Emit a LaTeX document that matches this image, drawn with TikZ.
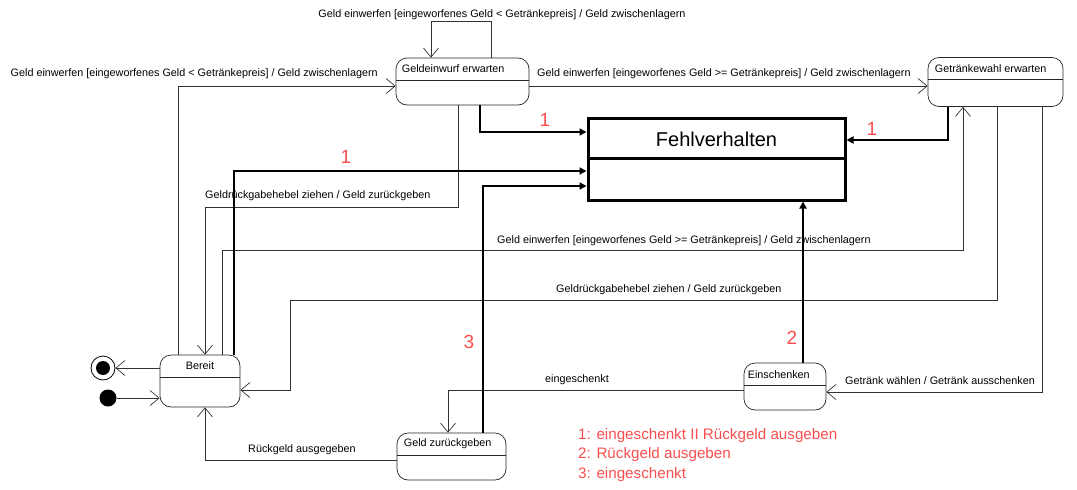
\documentclass[tikz,border=0pt]{standalone}
\usepackage{fontspec}
\setmainfont{Liberation Sans}
\usetikzlibrary{arrows.meta}
\definecolor{notered}{RGB}{250,78,78}
\tikzset{
  state/.style={draw=black!85, line width=0.7pt, rounded corners=11pt, fill=white, inner sep=0pt,
    path picture={\draw[black!85, line width=0.8pt] ([yshift=-22pt]path picture bounding box.north west) -- ([yshift=-22pt]path picture bounding box.north east);}},
  statetext/.style={inner sep=0pt, font=\fontsize{10.8}{12}\selectfont},
  trans/.style={draw=black!80, line width=0.7pt, -{Straight Barb[length=9pt,width=15pt,line width=0.7pt]}},
  faulty/.style={line width=1.8pt, -{Triangle[length=7pt,width=7pt]}},
  lbl/.style={inner sep=0pt, font=\fontsize{10.8}{12}\selectfont},
  num/.style={inner sep=0pt, text=notered, font=\fontsize{19}{21}\selectfont}
}
\begin{document}
\begin{tikzpicture}[x=1pt,y=-1pt]
  \useasboundingbox (0,0) rectangle (1077,490);
  % states
  \node[state, minimum width=133pt, minimum height=47pt] (geldein) at (462.5,81.5) {};
  \node[state, minimum width=135pt, minimum height=49pt] (wahl) at (995.5,82) {};
  \node[state, minimum width=80pt, minimum height=52pt] (bereit) at (200,381) {};
  \node[state, minimum width=82pt, minimum height=47pt] (einsch) at (785,386.5) {};
  \node[state, minimum width=109pt, minimum height=47pt] (zurueck) at (451.5,456.5) {};
  \node[statetext, anchor=west] at ([xshift=6pt,yshift=-11pt]geldein.north west) {Geldeinwurf erwarten};
  \node[statetext, anchor=west] at ([xshift=7pt,yshift=-11pt]wahl.north west) {Getränkewahl erwarten};
  \node[statetext] at ([yshift=-11pt]bereit.north) {Bereit};
  \node[statetext, anchor=west] at ([xshift=4pt,yshift=-12pt]einsch.north west) {Einschenken};
  \node[statetext, anchor=west] at ([xshift=7pt,yshift=-11pt]zurueck.north west) {Geld zurückgeben};
  % Fehlverhalten
  \node[draw, line width=3pt, inner sep=0pt, minimum width=257pt, minimum height=82pt] (fehl) at (716.5,159) {};
  \draw[line width=3pt] (fehl.west |- 0,158) -- (fehl.east |- 0,158);
  \node[inner sep=0pt, font=\fontsize{20}{22}\selectfont] at (716.5,139) {Fehlverhalten};
  % start and end
  \node[circle, fill, minimum size=17pt, inner sep=0pt] (init) at (108,398) {};
  \node[circle, draw, line width=0.8pt, minimum size=24pt, inner sep=0pt] (final) at (103,368) {};
  \fill (final.center) circle (7pt);
  \draw[trans] (init) -- (bereit.west |- init);
  \draw[trans] (bereit.west |- final) -- (final);
  % transitions
  \draw[trans] (geldein.north -| 491,0) -- ++(0,-36) -| (geldein.north -| 431,0);
  \node[lbl] at (502,15) {Geld einwerfen [eingeworfenes Geld < Getränkepreis] / Geld zwischenlagern};
  \draw[trans] (bereit.north -| 178,0) |- (geldein.west |- 0,86);
  \node[lbl, anchor=east] at (378,74) {Geld einwerfen [eingeworfenes Geld < Getränkepreis] / Geld zwischenlagern};
  \draw[trans] (geldein.east |- 0,86) -- (wahl.west |- 0,86);
  \node[lbl, anchor=west] at (537,74) {Geld einwerfen [eingeworfenes Geld >= Getränkepreis] / Geld zwischenlagern};
  \draw[trans] (geldein.south -| 458,0) |- (205,207) -- (bereit.north -| 205,0);
  \node[lbl, anchor=west] at (205,196) {Geldrückgabehebel ziehen / Geld zurückgeben};
  \draw[trans] (bereit.north -| 222,0) |- (963,250) -- (wahl.south -| 963,0);
  \node[lbl, anchor=west] at (497,241) {Geld einwerfen [eingeworfenes Geld >= Getränkepreis] / Geld zwischenlagern};
  \draw[trans] (wahl.south -| 997,0) |- (290,300) |- (bereit.east |- 0,390);
  \node[lbl, anchor=west] at (556,290) {Geldrückgabehebel ziehen / Geld zurückgeben};
  \draw[trans] (wahl.south -| 1042,0) |- (einsch.east |- 0,392);
  \node[lbl, anchor=west] at (845,381) {Getränk wählen / Getränk ausschenken};
  \draw[trans] (einsch.west |- 0,390) -| (zurueck.north -| 448,0);
  \node[lbl, anchor=west] at (545,380) {eingeschenkt};
  \draw[trans] (zurueck.west |- 0,460) -| (bereit.south -| 205,0);
  \node[lbl, anchor=west] at (248,450) {Rückgeld ausgegeben};
  % transitions into Fehlverhalten
  \draw[faulty] (geldein.south -| 480,0) |- (fehl.west |- 0,132);
  \node[num] at (545,120) {1};
  \draw[faulty] (wahl.south -| 948,0) |- (fehl.east |- 0,140);
  \node[num] at (872,129) {1};
  \draw[faulty] (bereit.north -| 234,0) |- (fehl.west |- 0,171);
  \node[num] at (346,157) {1};
  \draw[faulty] (zurueck.north -| 483,0) |- (fehl.west |- 0,186);
  \node[num] at (469,342) {3};
  \draw[faulty] (einsch.north -| 803,0) -- (fehl.south -| 803,0);
  \node[num] at (792,338) {2};
  % legend
  \node[inner sep=0pt, anchor=north west, align=left, text=notered, font=\fontsize{15.2}{19.5}\selectfont] (legend) at (578,428) {1: eingeschenkt II Rückgeld ausgeben\\2: Rückgeld ausgeben\\3: eingeschenkt};
\end{tikzpicture}
\end{document}
